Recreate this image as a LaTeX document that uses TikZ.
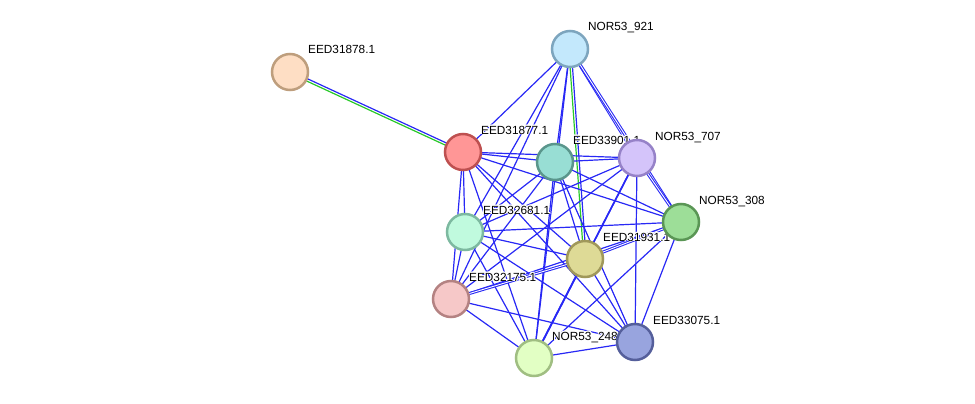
\documentclass[tikz,border=0pt]{standalone}
\usepackage{fontspec}
\setmainfont{Liberation Sans}
\usepackage{contour}
\contourlength{0.9pt}
\usetikzlibrary{calc}
\pgfdeclarelayer{edges}
\pgfdeclarelayer{labels}
\pgfsetlayers{edges,labels,main}
\definecolor{eblue}{RGB}{40,40,245}
\definecolor{egreen}{RGB}{40,200,40}
\tikzset{
  prot/.style={circle,minimum size=36pt,inner sep=0pt,line width=2.5pt},
  lab/.style={anchor=base west,inner sep=0pt,font=\fontsize{11.8}{12}\selectfont,text=black},
  ed/.style={eblue,line width=1.2pt},
  dbl/.style={eblue,line width=1.05pt,double=white,double distance=0.9pt},
  gr/.style={egreen,line width=1.2pt},
}
\newcommand{\pairline}[3]{%
  \draw[#3] ($(#1)!1.2pt!90:(#2)$) -- ($(#2)!1.2pt!-90:(#1)$);}
\begin{document}
\begin{tikzpicture}[x=1pt,y=-1pt]
\useasboundingbox (0,0) rectangle (975,404);
% nodes
\node[prot,draw={rgb,255:red,190;green,158;blue,125},fill={rgb,255:red,254;green,222;blue,196}] (n78) at (290,72) {};
\node[prot,draw={rgb,255:red,125;green,165;blue,190},fill={rgb,255:red,195;green,232;blue,252}] (n921) at (570,49) {};
\node[prot,draw={rgb,255:red,190;green,80;blue,80},fill={rgb,255:red,255;green,150;blue,150}] (n77) at (463,152) {};
\node[prot,draw={rgb,255:red,90;green,150;blue,140},fill={rgb,255:red,152;green,222;blue,212}] (n901) at (555,162) {};
\node[prot,draw={rgb,255:red,150;green,130;blue,200},fill={rgb,255:red,212;green,196;blue,250}] (n707) at (637,158) {};
\node[prot,draw={rgb,255:red,90;green,150;blue,85},fill={rgb,255:red,157;green,222;blue,152}] (n308) at (681,222) {};
\node[prot,draw={rgb,255:red,125;green,185;blue,160},fill={rgb,255:red,192;green,250;blue,222}] (n681) at (465,232) {};
\node[prot,draw={rgb,255:red,160;green,152;blue,90},fill={rgb,255:red,222;green,218;blue,150}] (n931) at (585,259) {};
\node[prot,draw={rgb,255:red,180;green,130;blue,130},fill={rgb,255:red,246;green,200;blue,200}] (n175) at (451,299) {};
\node[prot,draw={rgb,255:red,85;green,95;blue,155},fill={rgb,255:red,152;green,164;blue,222}] (n075) at (635,342) {};
\node[prot,draw={rgb,255:red,160;green,190;blue,130},fill={rgb,255:red,226;green,255;blue,196}] (n248) at (534,358) {};
% labels
\begin{pgfonlayer}{labels}
\node[lab] (l78) at ($(n78)+(18,-18)$) {\contour{white}{EED31878.1}};
\node[lab] (l921) at ($(n921)+(18,-18)$) {\contour{white}{NOR53\_921}};
\node[lab] (l77) at ($(n77)+(18,-18)$) {\contour{white}{EED31877.1}};
\node[lab] (l901) at ($(n901)+(18,-18)$) {\contour{white}{EED33901.1}};
\node[lab] (l707) at ($(n707)+(18,-18)$) {\contour{white}{NOR53\_707}};
\node[lab] (l308) at ($(n308)+(18,-18)$) {\contour{white}{NOR53\_308}};
\node[lab] (l681) at ($(n681)+(18,-18)$) {\contour{white}{EED32681.1}};
\node[lab] (l931) at ($(n931)+(18,-18)$) {\contour{white}{EED31931.1}};
\node[lab] (l175) at ($(n175)+(18,-18)$) {\contour{white}{EED32175.1}};
\node[lab] (l075) at ($(n075)+(18,-18)$) {\contour{white}{EED33075.1}};
\node[lab] (l248) at ($(n248)+(18,-18)$) {\contour{white}{NOR53\_248}};
\end{pgfonlayer}
% edges
\begin{pgfonlayer}{edges}
\pairline{n78.center}{n77.center}{ed}
\pairline{n77.center}{n78.center}{gr}
\pairline{n921.center}{n931.center}{ed}
\pairline{n931.center}{n921.center}{gr}
\foreach \b in {n77,n901,n681,n175,n248}
  \draw[ed] (n921.center) -- (\b.center);
\foreach \b in {n707,n308}
  \draw[dbl] (n921.center) -- (\b.center);
\foreach \b in {n901,n707,n308,n681,n931,n175,n075,n248}
  \draw[ed] (n77.center) -- (\b.center);
\foreach \b in {n707,n308,n681,n931,n175,n075,n248}
  \draw[ed] (n901.center) -- (\b.center);
\draw[dbl] (n707.center) -- (n308.center);
\foreach \b in {n681,n931,n175,n075}
  \draw[ed] (n707.center) -- (\b.center);
\draw[ed,line width=1.7pt] (n707.center) -- (n248.center);
\foreach \b in {n681,n175,n075,n248}
  \draw[ed] (n308.center) -- (\b.center);
\draw[dbl] (n308.center) -- (n931.center);
\foreach \b in {n931,n175,n075,n248}
  \draw[ed] (n681.center) -- (\b.center);
\draw[dbl] (n931.center) -- (n175.center);
\draw[ed] (n931.center) -- (n075.center);
\draw[ed,line width=1.7pt] (n931.center) -- (n248.center);
\draw[ed] (n175.center) -- (n075.center);
\draw[ed] (n175.center) -- (n248.center);
\draw[ed] (n075.center) -- (n248.center);
\end{pgfonlayer}
\end{tikzpicture}
\end{document}
